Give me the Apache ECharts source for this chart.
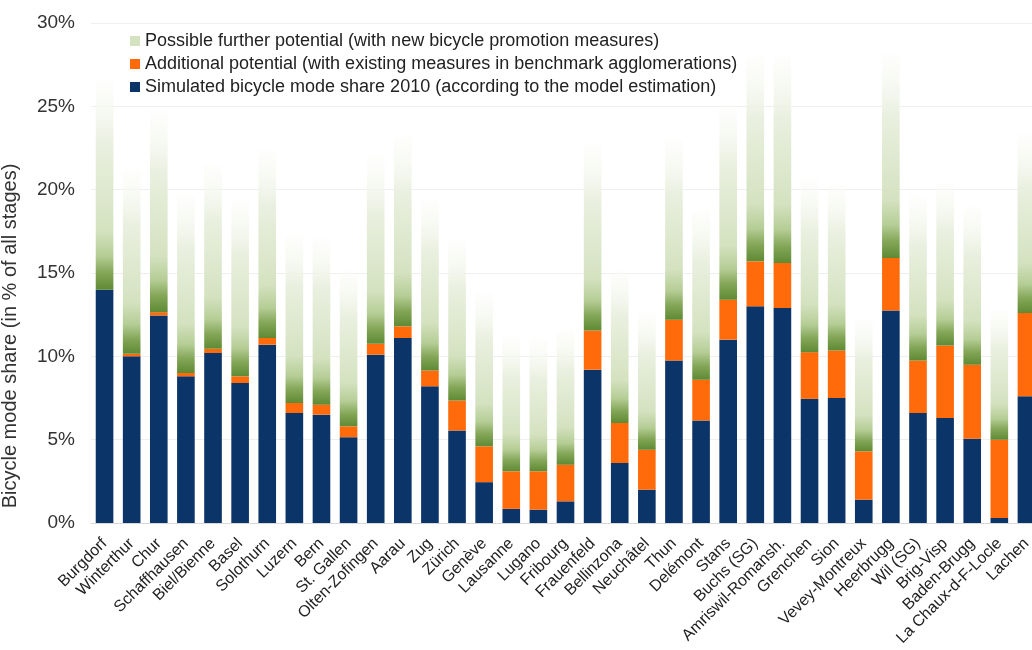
<!DOCTYPE html>
<html>
<head>
<meta charset="utf-8">
<script src="https://cdn.jsdelivr.net/npm/echarts@6/dist/echarts.min.js"></script>
<style>
    html, body { margin: 0; padding: 0; background: #fff; }
    #chart { width: 1032px; height: 650px; }
</style>
</head>
<body>
<div id="chart"></div>
<script>
// agglomerations, in the order of the chart
const cities = [
    'Burgdorf', 'Winterthur', 'Chur', 'Schaffhausen', 'Biel/Bienne', 'Basel', 'Solothurn',
    'Luzern', 'Bern', 'St. Gallen', 'Olten-Zofingen', 'Aarau', 'Zug', 'Zürich', 'Genève',
    'Lausanne', 'Lugano', 'Fribourg', 'Frauenfeld', 'Bellinzona', 'Neuchâtel', 'Thun',
    'Delémont', 'Stans', 'Buchs (SG)', 'Amriswil-Romansh.', 'Grenchen', 'Sion',
    'Vevey-Montreux', 'Heerbrugg', 'Wil (SG)', 'Brig-Visp', 'Baden-Brugg',
    'La Chaux-d-F-Locle', 'Lachen'
];

// simulated share 2010 (%)
const simulated = [
    14.0, 10.0, 12.45, 8.8, 10.2, 8.4, 10.7, 6.6, 6.5, 5.15, 10.1, 11.1, 8.2, 5.55, 2.45,
    0.85, 0.8, 1.3, 9.2, 3.6, 2.0, 9.75, 6.15, 11.0, 13.0, 12.9, 7.45, 7.5, 1.4, 12.75,
    6.6, 6.3, 5.05, 0.3, 7.6
];

// additional potential with existing measures (%)
const additional = [
    0, 0.15, 0.2, 0.2, 0.25, 0.4, 0.4, 0.6, 0.6, 0.65, 0.65, 0.7, 0.95, 1.8, 2.15,
    2.25, 2.3, 2.2, 2.35, 2.4, 2.4, 2.45, 2.45, 2.4, 2.7, 2.7, 2.8, 2.85, 2.9, 3.15,
    3.15, 4.35, 4.45, 4.7, 5.0
];

// possible further potential with new promotion measures (%)
const further = [
    12.6, 11.05, 12.05, 10.7, 11.05, 10.6, 11.3, 10.1, 10.0, 9.4, 11.25, 11.4, 10.25, 9.65, 9.2,
    8.1, 7.9, 8.1, 11.15, 9.2, 8.2, 10.8, 10.2, 11.6, 12.3, 12.5, 10.35, 9.95, 7.9, 12.3,
    9.85, 9.75, 9.5, 7.8, 10.8
];

const NAME_FURTHER = 'Possible further potential (with new bicycle promotion measures)';
const NAME_ADD = 'Additional potential (with existing measures in benchmark agglomerations)';
const NAME_SIM = 'Simulated bicycle mode share 2010 (according to the model estimation)';

const chart = echarts.init(document.getElementById('chart'));

// green fades out towards the top of each bar
const greenFade = new echarts.graphic.LinearGradient(0, 0, 0, 1, [
    { offset: 0, color: 'rgba(252,253,249,0.4)' },
    { offset: 0.3, color: '#eaf0e0' },
    { offset: 0.72, color: '#d4e2c0' },
    { offset: 0.84, color: '#b5cd95' },
    { offset: 0.92, color: '#83a657' },
    { offset: 1, color: '#5f8a34' }
]);

const font = 'Arial, "Liberation Sans", sans-serif';

const option = {
    backgroundColor: '#fff',
    animation: false,
    textStyle: { fontFamily: font },
    legend: {
        orient: 'vertical',
        left: 125,
        top: 27,
        itemWidth: 10,
        itemHeight: 10,
        itemGap: 5,
        textStyle: { fontSize: 18, color: '#222', fontFamily: font },
        data: [
            { name: NAME_FURTHER, icon: 'rect', itemStyle: { color: '#d4e2c0' } },
            { name: NAME_ADD, icon: 'rect' },
            { name: NAME_SIM, icon: 'rect' }
        ]
    },
    grid: { left: 91, right: -8, top: 23, bottom: 127, outerBoundsMode: 'none' },
    xAxis: {
        type: 'category',
        data: cities,
        axisLine: { lineStyle: { color: '#d9d9d9' } },
        axisTick: { show: false },
        axisLabel: {
            interval: 0,
            rotate: 45,
            margin: 18,
            fontSize: 16,
            color: '#222',
            fontFamily: font
        }
    },
    yAxis: {
        type: 'value',
        min: 0,
        max: 30,
        interval: 5,
        name: 'Bicycle mode share (in % of all stages)',
        nameLocation: 'middle',
        nameGap: 71,
        nameTextStyle: { fontSize: 20, color: '#333', fontFamily: font, padding: [0, 126, 0, 0] },
        axisLine: { show: false },
        axisTick: { show: false },
        splitLine: { lineStyle: { color: '#efefef' } },
        axisLabel: { formatter: '{value}%', fontSize: 19, color: '#333', margin: 16, fontFamily: font }
    },
    series: [
        {
            name: NAME_SIM,
            type: 'bar',
            stack: 'share',
            data: simulated,
            barCategoryGap: '35%',
            itemStyle: { color: '#0b3468' }
        },
        {
            name: NAME_ADD,
            type: 'bar',
            stack: 'share',
            data: additional,
            itemStyle: { color: '#ff6a0a' }
        },
        {
            name: NAME_FURTHER,
            type: 'bar',
            stack: 'share',
            data: further,
            itemStyle: { color: greenFade }
        }
    ]
};

chart.setOption(option);
</script>
</body>
</html>
